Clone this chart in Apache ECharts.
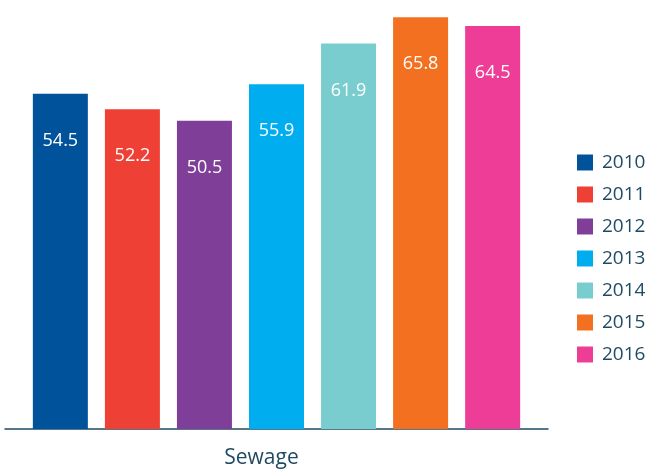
<!DOCTYPE html>
<html>
<head>
<meta charset="utf-8">
<script src="https://cdn.jsdelivr.net/npm/echarts@6/dist/echarts.min.js"></script>
<style>
  html, body { margin: 0; padding: 0; background: #fff; }
  #chart { width: 652px; height: 470px; }
</style>
</head>
<body>
<div id="chart"></div>
<script>
// data
const categories = ['Sewage']
const years = ['2010', '2011', '2012', '2013', '2014', '2015', '2016']
const values = [54.5, 52.2, 50.5, 55.9, 61.9, 65.8, 64.5]
const colors = ['#00529b', '#ee4035', '#7f3f98', '#00aeef', '#79cdcf', '#f37021', '#ee3d96']

const textColor = '#1f4a63'
const font = '"Open Sans", sans-serif'

const chart = echarts.init(document.getElementById('chart'))

const series = years.map(function(y, i) {
  return {
    name: y,
    type: 'bar',
    barWidth: 55,
    barGap: '31%',
    itemStyle: { color: colors[i] },
    label: {
      show: true,
      position: 'insideTop',
      distance: 38,
      color: '#fff',
      fontSize: 18,
      fontFamily: font
    },
    data: [values[i]]
  }
})

chart.setOption({
  animation: false,
  grid: { left: 5, right: 104, top: 9, bottom: 41 },
  legend: {
    orient: 'vertical',
    left: 572,
    top: 148,
    itemWidth: 16,
    itemHeight: 16,
    itemGap: 13,
    icon: 'rect',
    textStyle: { color: textColor, fontSize: 19, fontFamily: font, lineHeight: 19, padding: [0, 0, 0, 4] },
    data: years
  },
  xAxis: {
    type: 'category',
    data: categories,
    axisLine: { lineStyle: { color: '#1f4a63', width: 1.5 } },
    axisTick: { show: false },
    axisLabel: {
      color: textColor,
      fontSize: 21,
      fontFamily: font,
      margin: 19,
      padding: [0, 30, 0, 0]
    }
  },
  yAxis: {
    type: 'value',
    min: 5,
    max: 67,
    show: false,
    splitLine: { show: false }
  },
  series: series
})
</script>
</body>
</html>
